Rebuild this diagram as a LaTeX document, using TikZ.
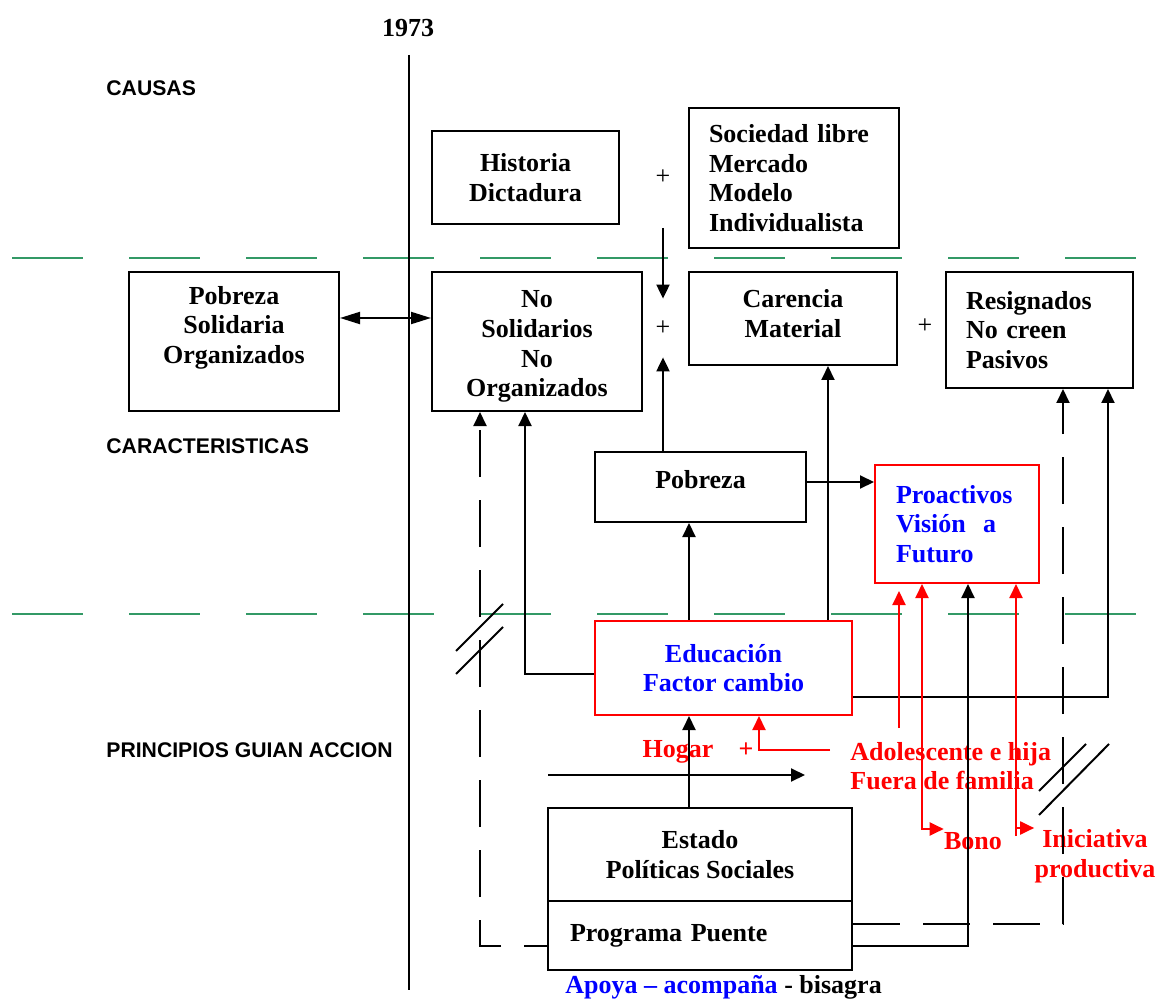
\documentclass[tikz,border=0pt]{standalone}
\usepackage{fontspec}
\setmainfont{Liberation Serif}
\setsansfont{Liberation Sans}
\usepackage{xcolor}
\usetikzlibrary{arrows.meta}
\definecolor{seagreen}{RGB}{51,153,102}

\begin{document}
\begin{tikzpicture}[x=0.5pt, y=-0.5pt,
  txt/.style={font=\bfseries\fontsize{13}{14.8}\selectfont},
  box/.style={rectangle, draw, line width=1pt, txt, align=center, inner sep=0pt},
  redbox/.style={box, draw=red, text=blue},
  head/.style={font=\sffamily\bfseries\fontsize{10.6}{12.5}\selectfont, anchor=west, inner sep=0pt},
  lbl/.style={txt, inner sep=0pt},
  plus/.style={font=\fontsize{13}{14.8}\selectfont, inner sep=0pt},
  link/.style={line width=1pt},
  arr/.style={link, -{Triangle[length=7pt,width=6.5pt]}},
  redarr/.style={arr, red},
  brokenline/.style={dash pattern=on 23.5pt off 11.5pt},
  sep/.style={seagreen, line width=1pt, dash pattern=on 35.5pt off 23pt}]

\useasboundingbox (0,0) rectangle (1168,1000);

\draw[sep] (12,258) -- (1168,258);
\draw[sep] (12,614) -- (1168,614);

\node[lbl] (year) at (408,28) {1973};
\coordinate (lineTop) at (409,55);
\coordinate (lineBottom) at (409,990);
\draw[line width=1.2pt] (lineTop) -- (lineBottom);

\node[head] (causas) at (106,88) {CAUSAS};
\node[head] (carac) at (106,446) {CARACTERISTICAS};
\node[head] (princ) at (106,750) {PRINCIPIOS GUIAN ACCION};

\node[box, minimum width=93.5pt, minimum height=46.5pt] (hist) at (525.5,177.5) {Historia\\Dictadura};
\node[plus] (plusA) at (663,177) {+};
\node[box, align=left, text width=85pt, inner xsep=10pt, minimum height=70pt] (soc) at (794,178) {Sociedad libre\\Mercado\\Modelo\\Individualista};

\node[box, minimum width=105pt, minimum height=69.5pt] (pobsol) at (234,341.5) {Pobreza\\Solidaria\\Organizados\\[2pt]\mbox{}};
\node[box, minimum width=105pt, minimum height=69.5pt] (nosol) at (537,341.5) {\mbox{}\\[-1.2pt]No\\Solidarios\\No\\Organizados};
\node[plus, minimum height=29pt] (plusB) at (663,328) {+};
\node[box, minimum width=104pt, minimum height=46.5pt] (caren) at (793,318.5) {Carencia\\Material\\[-10pt]\mbox{}};
\node[plus] (plusC) at (925,326) {+};
\node[box, align=left, text width=73.5pt, inner xsep=10pt, minimum height=58pt] (resig) at (1039.5,330) {Resignados\\No creen\\Pasivos};

\node[box, minimum width=105.5pt, minimum height=35pt, text depth=8pt] (pobreza) at (700.5,487) {Pobreza};
\node[redbox, align=left, text width=61pt, inner xsep=10.5pt, minimum height=59pt] (proact) at (957,524) {Proactivos\\Visión~~a\\Futuro};

\node[redbox, minimum width=128.5pt, minimum height=47pt] (educ) at (723.5,668) {Educación\\Factor cambio};
\node[box, minimum width=152pt, minimum height=46.5pt] (estado) at (700,854.5) {Estado\\Políticas Sociales};
\node[box, align=left, text width=130pt, inner xsep=11pt, minimum height=34.5pt] (puente) at (700,935.5) {Programa Puente};
\node[lbl, anchor=base west] (apoya) at (565,993) {\textcolor{blue}{Apoya – acompaña} - bisagra};

\node[lbl, text=red] (hogar) at (678,752) {Hogar};
\node[lbl, text=red] (plusD) at (746,750) {+};
\node[lbl, text=red, align=left, anchor=west] (adol) at (850,766) {Adolescente e hija\\Fuera de familia};
\node[lbl, text=red] (bono) at (973,841) {Bono};
\node[lbl, text=red, align=center] (inic) at (1095,856) {Iniciativa\\productiva};

\coordinate (fromCause) at (663,228);
\draw[arr] (fromCause) -- (plusB.north);
\draw[arr] (pobreza.north -| plusB) -- (plusB.south);
\draw[link, {Triangle[length=10pt,width=6pt]}-{Triangle[length=10pt,width=6pt]}] (pobsol.east |- 0,318) -- (nosol.west |- 0,318);

\draw[arr] (estado.north -| 689,0) -- (educ.south -| 689,0);
\draw[arr] (educ.north -| 689,0) -- (pobreza.south -| 689,0);
\draw[arr] (educ.west |- 0,674) -| (nosol.south -| 525,0);
\draw[arr] (educ.north -| 828,0) -- (caren.south -| 828,0);
\draw[arr] (educ.east |- 0,697) -| (resig.south -| 1108,0);
\draw[arr] (pobreza.east |- 0,482) -- (proact.west |- 0,482);
\draw[arr] (puente.east |- 0,946) -| (proact.south -| 968,0);
\draw[arr, brokenline, dash phase=12pt] (puente.west |- 0,946) -| (nosol.south -| 480,0);
\draw[arr, brokenline] (puente.east |- 0,924) -| (resig.south -| 1063,0);

\coordinate (flowA) at (548,775);
\coordinate (flowB) at (805,775);
\draw[arr] (flowA) -- (flowB);

\draw[link] (456,651) -- (503,604);
\draw[link] (456,674) -- (503,627);
\draw[link] (1039,791) -- (1086,744);
\draw[link] (1039,815) -- (1109,744);

\coordinate (hogarIn) at (830,750);
\draw[redarr] (hogarIn) -| (educ.south -| 759,0);
\coordinate (adolUp) at (899,728);
\draw[redarr, shorten >=3.5pt] (adolUp) -- (proact.south -| 899,0);
\draw[redarr, {Triangle[length=7pt,width=6.5pt]}-{Triangle[length=7pt,width=6.5pt]}] (proact.south -| 922,0) |- (bono.west |- 0,829);
\coordinate (inicFoot) at (1016,836);
\draw[redarr] (inicFoot) -- (proact.south -| 1016,0);
\draw[redarr] (inicFoot |- 0,828) -- (inic.west |- 0,828);
\end{tikzpicture}
\end{document}
